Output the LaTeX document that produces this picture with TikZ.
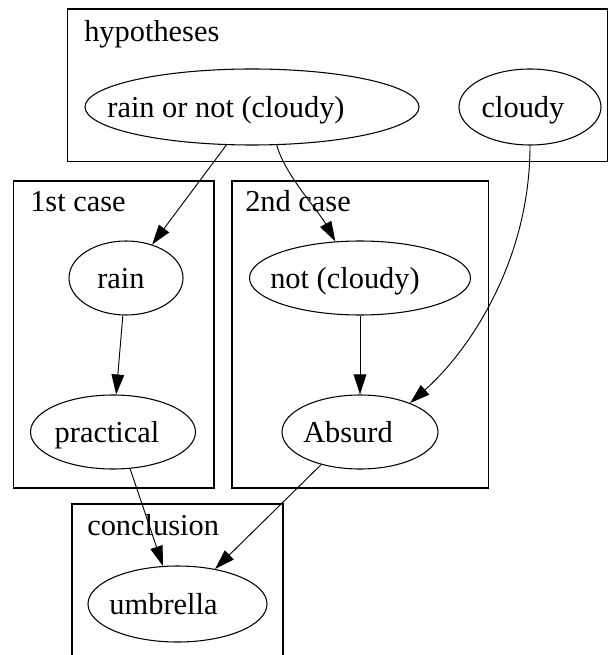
\documentclass[tikz,border=0pt]{standalone}
\usepackage{fontspec}
\setmainfont{Liberation Serif}
\usetikzlibrary{shapes.geometric,arrows.meta}
\begin{document}
\begin{tikzpicture}[x=0.75pt,y=-0.75pt,
  every node/.style={font=\fontsize{22.8}{26}\selectfont},
  state/.style={ellipse,draw,line width=0.8pt,inner sep=0pt,text height=16pt,text depth=0.25pt},
  cluster/.style={draw,line width=1.1pt},
  caption/.style={anchor=base west,inner sep=0pt},
  link/.style={line width=0.7pt,-{Triangle[length=15pt,width=9.5pt]}}]
\useasboundingbox (0,0) rectangle (609,655);
\clip (0,0) rectangle (609,655);

% clusters
\draw[cluster] (67.5,9) rectangle (607.5,161.5);
\draw[cluster] (13.5,181) rectangle (214,488);
\draw[cluster] (232,181) rectangle (488.5,488);
\draw[cluster] (72,670) -- (72,504) -- (283,504) -- (283,670);

\node[caption] (hyp) at (84,42) {hypotheses};
\node[caption] (c1) at (30,212) {1st case};
\node[caption] (c2) at (245,212) {2nd case};
\node[caption] (concl) at (87,535) {conclusion};

% statements (the leading negative kern sets each label slightly left of centre)
\node[state,minimum width=250.5pt,minimum height=57pt] (ron) at (252,107) {\kern-39pt rain or not (cloudy)};
\node[state,minimum width=106.5pt,minimum height=57pt] (cloudy) at (530,107) {\kern-10.5pt cloudy};
\node[state,minimum width=85.5pt,minimum height=55.5pt] (rain) at (126,278) {\kern-7.5pt rain};
\node[state,minimum width=165.75pt,minimum height=55.5pt] (not) at (360,278) {\kern-22.5pt not (cloudy)};
\node[state,minimum width=123.75pt,minimum height=55.5pt] (practical) at (113,432) {\kern-9pt practical};
\node[state,minimum width=117pt,minimum height=55.5pt] (absurd) at (360,432) {\kern-18pt Absurd};
\node[state,minimum width=134.25pt,minimum height=57pt] (umbrella) at (177.5,604) {\kern-21pt umbrella};

% inferences
\draw[link] (ron.236) -- (rain.52);
\draw[link] (ron.303) .. controls (285,175) and (318,210) .. (not.124);
\draw[link] (rain) -- (practical);
\draw[link] (not) -- (absurd);
\draw[link] (cloudy.270) .. controls (530,260) and (470,350) .. (absurd.30);
\draw[link] (practical.295) -- (umbrella.111);
\draw[link] (absurd.220) -- (umbrella.43);
\end{tikzpicture}
\end{document}
